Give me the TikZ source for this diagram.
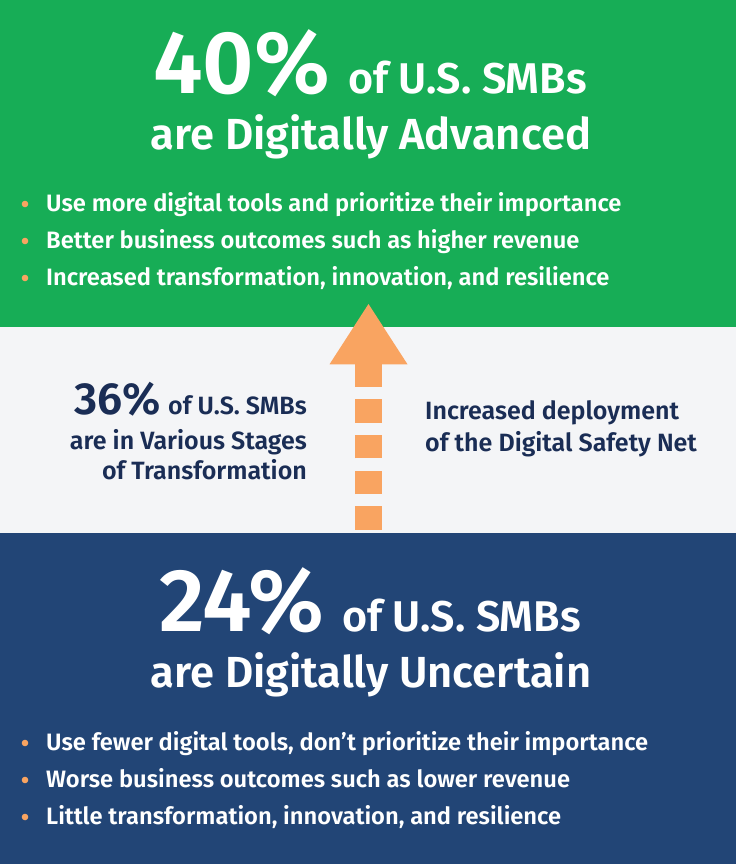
\documentclass[tikz,border=0pt]{standalone}
\usepackage{fontspec}
\setmainfont{Fira Sans}[BoldFont={Fira Sans SemiBold}]
\usepackage{xcolor}
\definecolor{advgreen}{HTML}{17AD56}
\definecolor{midgray}{HTML}{F4F5F7}
\definecolor{uncblue}{HTML}{224576}
\definecolor{netorange}{HTML}{F9A461}
\definecolor{inkblue}{HTML}{1A2D55}
\newcommand{\fs}[1]{\fontsize{#1}{#1}\selectfont}

\begin{document}
\begin{tikzpicture}[x=1pt,y=-1pt,
	head/.style={text=white,font=\bfseries,inner sep=0pt,anchor=base},
	item/.style={text=white,font={\bfseries\fs{23.7}},inner sep=0pt,anchor=base west},
	side/.style={text=inkblue,font={\bfseries\fs{25}},inner sep=0pt,anchor=base east},
	netnote/.style={text=inkblue,font={\bfseries\fs{25}},inner sep=0pt,anchor=base west},
	shaft/.style={netorange,line width=27pt,dash pattern=on 23.5pt off 12.2pt}]
	\useasboundingbox (0,0) rectangle (736,864);
	\fill[midgray] (0,0) rectangle (736,864);
	\fill[advgreen] (0,0) rectangle (736,326.5);
	\fill[uncblue] (0,533) rectangle (736,864);
	% digitally advanced
	\node[head] (adv-a) at (370,93.5) {\fs{89}40\%\hspace{18pt}\fs{43}of U.S. SMBs};
	\node[head,font={\bfseries\fs{43.5}}] (adv-b) at (371,149) {are Digitally Advanced};
	\foreach \txt [count=\i] in {Use more digital tools and prioritize their importance,Better business outcomes such as higher revenue,{Increased transformation, innovation, and resilience}}
	{\node[item] (adv-\i) at (46,{174+37*\i}) {\txt};
		\fill[netorange] ([shift={(-21pt,7pt)}]adv-\i.base west) circle (3.3pt);}
	% digitally uncertain
	\node[head] (unc-a) at (370,631.7) {\fs{89}24\%\hspace{18pt}\fs{43}of U.S. SMBs};
	\node[head,font={\bfseries\fs{43.5}}] (unc-b) at (371,687.3) {are Digitally Uncertain};
	\foreach \txt [count=\i] in {{Use fewer digital tools, don’t prioritize their importance},Worse business outcomes such as lower revenue,{Little transformation, innovation, and resilience}}
	{\node[item] (unc-\i) at (46,{713+37*\i}) {\txt};
		\fill[netorange] ([shift={(-21pt,7pt)}]unc-\i.base west) circle (3.3pt);}
	% in between
	\node[side] (mid-a) at (307,414.5) {\fs{45}36\%\hspace{7pt}\fs{25}of U.S. SMBs};
	\node[side] (mid-b) at (307,449) {are in Various Stages};
	\node[side] (mid-c) at (307,479.5) {of Transformation};
	\node[netnote] (net-a) at (425,419.5) {Increased deployment};
	\node[netnote] (net-b) at (425,451.7) {of the Digital Safety Net};
	% safety net arrow
	\coordinate (tail) at (368.5,529.7);
	\coordinate (neck) at (368.5,364.3);
	\coordinate (tip) at (368.5,304);
	\draw[shaft] (tail) -- (neck);
	\fill[netorange] (tip) -- ([xshift=-39pt]neck) -- ([xshift=39pt]neck) -- cycle;
\end{tikzpicture}
\end{document}
